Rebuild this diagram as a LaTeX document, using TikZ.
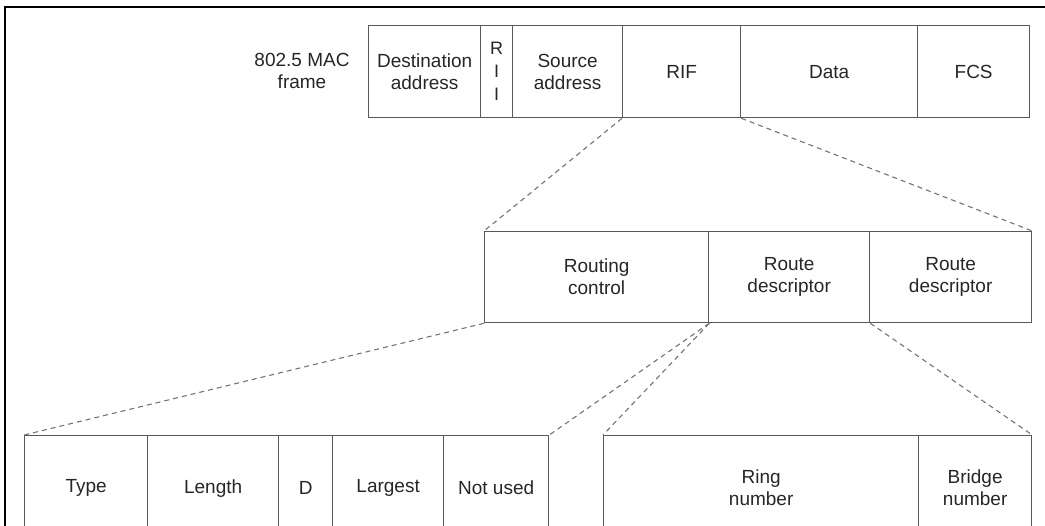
\documentclass[tikz,border=0pt]{standalone}
\usepackage{fontspec}
\setmainfont{Liberation Sans}
\begin{document}
\begin{tikzpicture}[x=1pt,y=-1pt,
  cell/.style={draw=black!65, line width=1.3pt, rectangle, inner sep=0pt,
    anchor=north west, align=center, font=\fontsize{19}{22}\selectfont, text=black!85},
  lbl/.style={align=center, inner sep=0pt, font=\fontsize{19}{22}\selectfont, text=black!85},
  zoomline/.style={draw=black!55, dash pattern=on 5pt off 4pt, line width=1.1pt}]
\useasboundingbox (0,0) rectangle (1045,526);
\clip (0,0) rectangle (1045,526);
\draw[line width=2pt] (5,526) -- (5,7) -- (1045,7);

% top row
\node[lbl] (mac) at (302,71) {802.5 MAC\\frame};
\node[cell, minimum width=112pt, minimum height=92pt] (dst) at (368,25) {Destination\\address};
\node[cell, minimum width=32pt, minimum height=92pt, font=\fontsize{18}{23}\selectfont] (rii) at (480,25) {R\\I\\I};
\node[cell, minimum width=110pt, minimum height=92pt] (src) at (512,25) {Source\\address};
\node[cell, minimum width=118pt, minimum height=92pt] (rif) at (622,25) {RIF};
\node[cell, minimum width=177pt, minimum height=92pt] (data) at (740,25) {Data};
\node[cell, minimum width=112pt, minimum height=92pt] (fcs) at (917,25) {FCS};

% middle row
\node[cell, minimum width=224pt, minimum height=91pt] (rc) at (484,231) {Routing\\control};
\node[cell, minimum width=161pt, minimum height=91pt] (rd1) at (708,231) {Route\\descriptor};
\node[cell, minimum width=162pt, minimum height=91pt] (rd2) at (869,231) {Route\\descriptor};

% bottom row
\node[cell, minimum width=123pt, minimum height=105pt] (type) at (24,435) {Type};
\node[cell, minimum width=131pt, minimum height=105pt] (len) at (147,435) {Length};
\node[cell, minimum width=54pt, minimum height=105pt] (d) at (278,435) {D};
\node[cell, minimum width=111pt, minimum height=105pt] (lrg) at (332,435) {Largest};
\node[cell, minimum width=105pt, minimum height=105pt] (nu) at (443,435) {Not used};
\node[cell, minimum width=315pt, minimum height=105pt] (ring) at (603,435) {Ring\\number};
\node[cell, minimum width=113pt, minimum height=105pt] (bridge) at (918,435) {Bridge\\number};

% zoom lines
\draw[zoomline] (rif.south west) -- (rc.north west);
\draw[zoomline] (rif.south east) -- (rd2.north east);
\draw[zoomline] (rc.south west) -- (type.north west);
\draw[zoomline] (rc.south east) -- (nu.north east);
\draw[zoomline] (rc.south east) -- (ring.north west);
\draw[zoomline] (rd1.south east) -- (bridge.north east);
\end{tikzpicture}
\end{document}
